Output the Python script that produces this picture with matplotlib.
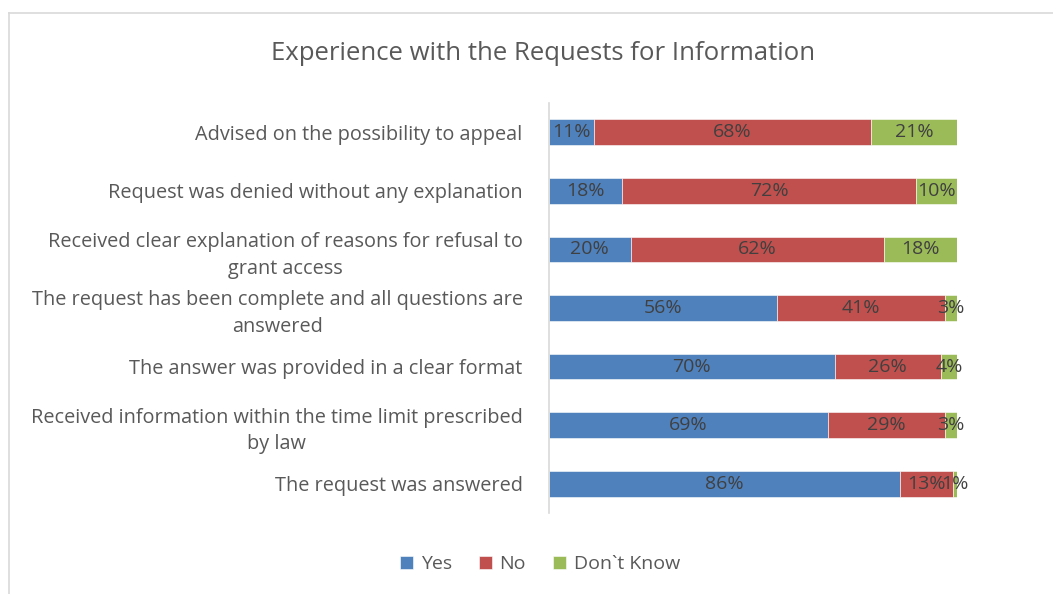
import matplotlib.pyplot as plt
import numpy as np
from matplotlib.lines import Line2D

plt.rcParams['font.family'] = ['Open Sans', 'DejaVu Sans']

# Data (bottom to top as drawn)
categories = ['The request was answered',
              'Received information within the time limit prescribed\nby law',
              'The answer was provided in a clear format',
              'The request has been complete and all questions are\nanswered',
              'Received clear explanation of reasons for refusal to\ngrant access',
              'Request was denied without any explanation',
              'Advised on the possibility to appeal']
yes = [86, 69, 70, 56, 20, 18, 11]
no = [13, 29, 26, 41, 62, 72, 68]
dont_know = [1, 3, 4, 3, 18, 10, 21]
series_names = ['Yes', 'No', 'Don`t Know']
colors = ['#4F81BD', '#C0504D', '#9BBB59']

raw = np.array([yes, no, dont_know], dtype=float)
shares = raw / raw.sum(axis=0) * 100

fig = plt.figure(figsize=(10.53, 5.94), dpi=100)
ax = fig.add_axes([549 / 1053, 1 - 513 / 594, 408 / 1053, 410 / 594])

y = np.arange(len(categories))
left = np.zeros(len(categories))
for i in range(3):
    bars = ax.barh(y, shares[i], left=left, height=0.44, color=colors[i],
                   label=series_names[i], edgecolor='white', linewidth=0.4)
    for j, b in enumerate(bars):
        ax.text(b.get_x() + b.get_width() / 2, b.get_y() + b.get_height() / 2,
                '%d%%' % raw[i][j], ha='center', va='center',
                fontsize=14, color='#404040')
    left += shares[i]

ax.set_xlim(0, 100)
ax.set_ylim(-0.5, len(categories) - 0.5)
ax.set_yticks(y)
ax.set_yticklabels(categories, fontsize=14.3, color='#595959', linespacing=1.45)
ax.tick_params(axis='y', length=0, pad=28)
ax.set_xticks([])
for s in ['top', 'right', 'bottom']:
    ax.spines[s].set_visible(False)
ax.spines['left'].set_color('#D9D9D9')
ax.spines['left'].set_linewidth(1.2)
for lbl in ax.get_yticklabels():
    lbl.set_horizontalalignment('right')
    lbl.set_multialignment('center')
ax.tick_params(axis='y', pad=19)

fig.text(543 / 1053, 1 - 54 / 594, 'Experience with the Requests for Information',
         ha='center', va='center', fontsize=18.5, color='#595959')

leg = fig.legend(loc='center', bbox_to_anchor=(540 / 1053, 1 - 564 / 594),
                 ncol=3, frameon=False, fontsize=14, handlelength=0.65,
                 handleheight=0.65, handletextpad=0.4, columnspacing=1.4)
for t in leg.get_texts():
    t.set_color('#595959')

# chart border (top and left visible)
fig.add_artist(Line2D([9 / 1053, 1], [1 - 13 / 594, 1 - 13 / 594], color='#D9D9D9', lw=1.2))
fig.add_artist(Line2D([9 / 1053, 9 / 1053], [0, 1 - 13 / 594], color='#D9D9D9', lw=1.2))

plt.savefig('out.png', dpi=100)
